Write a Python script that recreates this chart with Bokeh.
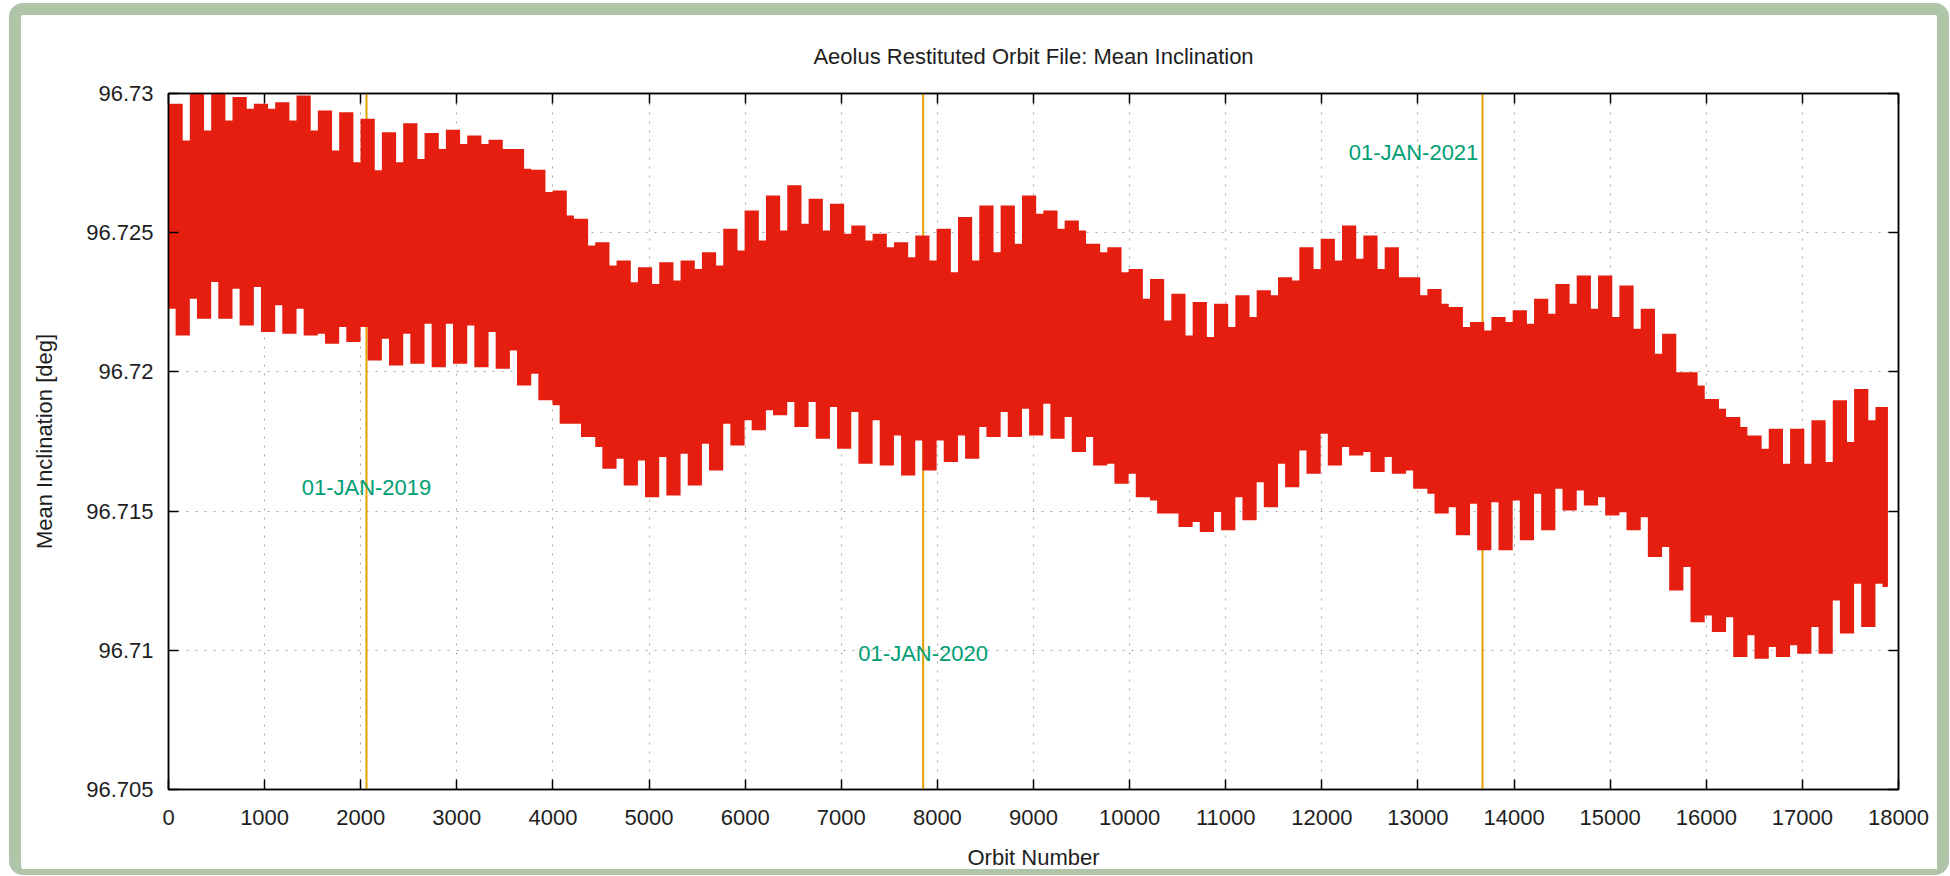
import numpy as np
from bokeh.plotting import figure
from bokeh.models import Span, FixedTicker, CustomJSTickFormatter, LinearAxis, ColumnDataSource, Range1d
from bokeh.core.properties import value
from bokeh.embed import file_html
from bokeh.resources import INLINE

# ---------------- data ----------------
# start orbit of each 14-day (222-orbit) envelope period
period_start = list(range(0, 17761, 222))
last_orbit = 17890

upper_tooth = [
    96.72963, 96.73011, 96.73017, 96.72987, 96.72963, 96.72969, 96.72993, 96.72939, 96.72933, 96.72909,
    96.72861, 96.72893, 96.72858, 96.72870, 96.72849, 96.72834, 96.72801, 96.72726, 96.72652, 96.72550,
    96.72466, 96.72400, 96.72376, 96.72394, 96.72400, 96.72430, 96.72514, 96.72580, 96.72634, 96.72670,
    96.72622, 96.72604, 96.72526, 96.72496, 96.72466, 96.72490, 96.72514, 96.72556, 96.72598, 96.72598,
    96.72634, 96.72580, 96.72544, 96.72460, 96.72448, 96.72370, 96.72334, 96.72281, 96.72251, 96.72245,
    96.72275, 96.72293, 96.72340, 96.72448, 96.72478, 96.72526, 96.72490, 96.72448, 96.72340, 96.72298,
    96.72233, 96.72179, 96.72197, 96.72221, 96.72263, 96.72316, 96.72346, 96.72346, 96.72310, 96.72227,
    96.72137, 96.71999, 96.71903, 96.71838, 96.71772, 96.71796, 96.71796, 96.71826, 96.71898, 96.71939,
    96.71874,
]
upper_notch = [
    96.72831, 96.72867, 96.72903, 96.72945, 96.72945, 96.72903, 96.72867, 96.72795, 96.72753, 96.72724,
    96.72753, 96.72765, 96.72801, 96.72819, 96.72819, 96.72801, 96.72730, 96.72646, 96.72562, 96.72454,
    96.72382, 96.72322, 96.72316, 96.72328, 96.72370, 96.72382, 96.72436, 96.72472, 96.72508, 96.72532,
    96.72508, 96.72496, 96.72472, 96.72448, 96.72412, 96.72400, 96.72358, 96.72400, 96.72430, 96.72460,
    96.72568, 96.72514, 96.72508, 96.72430, 96.72358, 96.72263, 96.72185, 96.72131, 96.72125, 96.72161,
    96.72197, 96.72275, 96.72328, 96.72370, 96.72400, 96.72406, 96.72370, 96.72340, 96.72275, 96.72245,
    96.72161, 96.72149, 96.72179, 96.72173, 96.72209, 96.72245, 96.72227, 96.72197, 96.72155, 96.72065,
    96.71999, 96.71951, 96.71868, 96.71802, 96.71724, 96.71670, 96.71670, 96.71676, 96.71748, 96.71826,
    96.71874,
]
lower_tooth = [
    96.72131, 96.72191, 96.72191, 96.72167, 96.72143, 96.72137, 96.72131, 96.72101, 96.72107, 96.72041,
    96.72023, 96.72029, 96.72017, 96.72029, 96.72017, 96.72011, 96.71951, 96.71898, 96.71814, 96.71766,
    96.71652, 96.71592, 96.71550, 96.71556, 96.71592, 96.71646, 96.71736, 96.71790, 96.71844, 96.71802,
    96.71760, 96.71724, 96.71670, 96.71664, 96.71628, 96.71646, 96.71676, 96.71688, 96.71766, 96.71766,
    96.71772, 96.71760, 96.71712, 96.71664, 96.71598, 96.71550, 96.71491, 96.71443, 96.71425, 96.71431,
    96.71467, 96.71514, 96.71586, 96.71634, 96.71664, 96.71700, 96.71640, 96.71634, 96.71580, 96.71491,
    96.71413, 96.71359, 96.71359, 96.71395, 96.71431, 96.71502, 96.71520, 96.71484, 96.71431, 96.71335,
    96.71215, 96.71101, 96.71066, 96.70976, 96.70970, 96.70976, 96.70988, 96.70988, 96.71060, 96.71084,
    96.71227,
]
lower_notch = [
    96.72227, 96.72263, 96.72323, 96.72299, 96.72305, 96.72239, 96.72227, 96.72137, 96.72161, 96.72161,
    96.72119, 96.72137, 96.72173, 96.72173, 96.72167, 96.72143, 96.72077, 96.71993, 96.71880, 96.71814,
    96.71730, 96.71688, 96.71682, 96.71694, 96.71706, 96.71742, 96.71814, 96.71826, 96.71862, 96.71892,
    96.71892, 96.71874, 96.71856, 96.71826, 96.71772, 96.71754, 96.71754, 96.71772, 96.71802, 96.71856,
    96.71868, 96.71886, 96.71838, 96.71766, 96.71670, 96.71634, 96.71538, 96.71491, 96.71461, 96.71497,
    96.71550, 96.71604, 96.71670, 96.71718, 96.71778, 96.71730, 96.71712, 96.71694, 96.71646, 96.71562,
    96.71514, 96.71526, 96.71532, 96.71538, 96.71562, 96.71580, 96.71574, 96.71550, 96.71496, 96.71478,
    96.71371, 96.71299, 96.71125, 96.71119, 96.71054, 96.71012, 96.71018, 96.71084, 96.71179, 96.71239,
    96.71239,
]

year_orbits = [2060, 7852, 13672]
label_text = ["01-JAN-2019", "01-JAN-2020", "01-JAN-2021"]
label_orbit = [2060, 7852, 12954]
label_incl = [96.71585, 96.70988, 96.72788]

x_ticks = list(range(0, 18001, 1000))
y_ticks = [96.705, 96.71, 96.715, 96.72, 96.725, 96.73]

# ---------------- build step envelope ----------------
third = 74
sx, su, sl = [], [], []
for k, s in enumerate(period_start):
    for j, (u, l) in enumerate([(upper_tooth[k], lower_notch[k]),
                                (upper_tooth[k], lower_tooth[k]),
                                (upper_notch[k], lower_tooth[k])]):
        xx = s + j * third
        if xx < last_orbit:
            sx.append(xx); su.append(u); sl.append(l)
sx.append(last_orbit); su.append(su[-1]); sl.append(sl[-1])
src = ColumnDataSource(dict(x=sx, y1=sl, y2=su))

FONT = "Liberation Sans"
TXT = "#1e1e1e"

p = figure(width=1940, height=872, output_backend="svg", toolbar_location=None,
           x_range=Range1d(0, 18000), y_range=Range1d(96.705, 96.73),
           title="Aeolus Restituted Orbit File: Mean Inclination")
p.min_border_left = 147
p.min_border_right = 63
p.min_border_top = 78
p.min_border_bottom = 98
p.styles = {"margin": "3px 0px 0px 9px", "border-style": "solid", "border-color": "#afc5a9",
            "border-width": "12px 12px 6px 12px", "border-radius": "14px"}
p.background_fill_color = "white"
p.border_fill_color = "white"
p.outline_line_color = "black"
p.outline_line_width = 1.5

p.title.text_font = FONT
p.title.text_font_size = "22px"
p.title.text_font_style = "normal"
p.title.text_color = TXT
p.title.align = "center"
p.title.standoff = 50

# grid
for g in (p.xgrid, p.ygrid):
    g.grid_line_color = "#a8a8a8"
    g.grid_line_dash = "2 7"
    g.grid_line_width = 1
p.xgrid.ticker = FixedTicker(ticks=x_ticks)
p.ygrid.ticker = FixedTicker(ticks=y_ticks)

fmt = CustomJSTickFormatter(code="return Number(tick.toFixed(4)).toString();")

def style_axis(ax, labels=True):
    ax.major_tick_in = 10
    ax.major_tick_out = 0
    ax.minor_tick_in = 0
    ax.minor_tick_out = 0
    ax.axis_line_color = "black"
    ax.axis_line_width = 1.5
    ax.major_tick_line_color = "black"
    ax.major_tick_line_width = 1.5
    ax.major_label_text_font = FONT
    ax.major_label_text_font_size = "22px"
    ax.major_label_text_color = TXT if labels else None
    ax.axis_label_text_font = FONT
    ax.axis_label_text_font_size = "22px"
    ax.axis_label_text_font_style = "normal"
    ax.axis_label_text_color = TXT

p.xaxis.ticker = FixedTicker(ticks=x_ticks)
p.yaxis.ticker = FixedTicker(ticks=y_ticks)
p.yaxis.formatter = fmt
style_axis(p.xaxis[0])
style_axis(p.yaxis[0])
p.xaxis.axis_label = "Orbit Number"
p.yaxis.axis_label = "Mean Inclination [deg]"
p.xaxis.major_label_standoff = 20
p.xaxis.axis_label_standoff = 17
p.yaxis.major_label_standoff = 15
p.yaxis.axis_label_standoff = 26

top_ax = LinearAxis(ticker=FixedTicker(ticks=x_ticks))
style_axis(top_ax, labels=False)
top_ax.major_label_standoff = 0
right_ax = LinearAxis(ticker=FixedTicker(ticks=y_ticks))
style_axis(right_ax, labels=False)
right_ax.major_label_standoff = 0
p.add_layout(top_ax, "above")
p.add_layout(right_ax, "right")

# year markers (behind data)
for xo in year_orbits:
    p.add_layout(Span(location=xo, dimension="height", line_color="#e69f00",
                      line_width=2, level="underlay"))

# inclination band
p.varea_step(x="x", y1="y1", y2="y2", step_mode="after", source=src,
             fill_color="#e51e10", fill_alpha=1.0)

# year labels
p.text(x=label_orbit, y=label_incl, text=label_text, text_font=value(FONT),
       text_font_size="22px", text_color="#009e73", text_align="center",
       text_baseline="middle")

open("out.html", "w").write(file_html(p, INLINE))
